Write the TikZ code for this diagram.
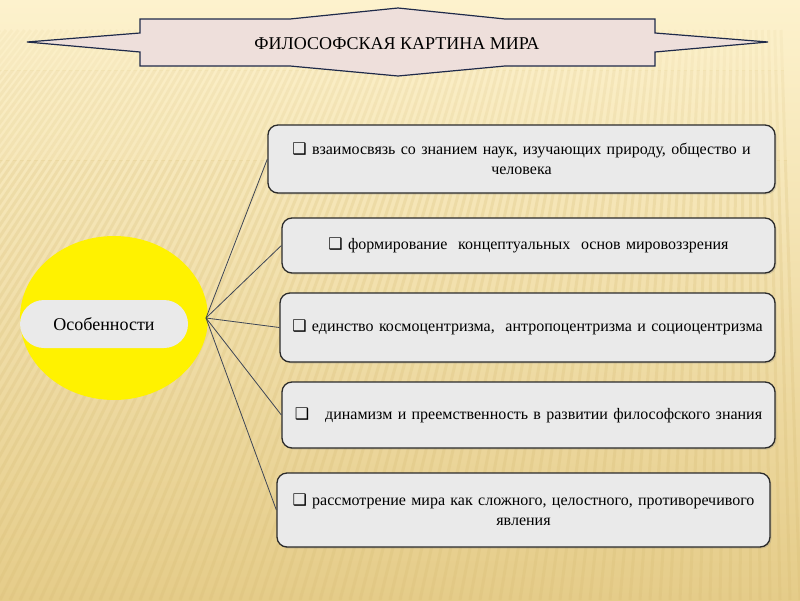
\documentclass[tikz,border=0pt]{standalone}
\usepackage{fontspec}
\setmainfont{Liberation Serif}
\newfontfamily\symf{DejaVu Sans}
\usetikzlibrary{shapes.geometric,shadows}
\definecolor{bgtop}{HTML}{FDF2CD}
\definecolor{bgmid}{HTML}{FAE9BC}
\definecolor{bgbot}{HTML}{E5CC89}
\definecolor{stripe}{HTML}{D4B970}
\definecolor{bannerfill}{HTML}{EEDFDB}
\definecolor{bannerline}{HTML}{1F2A4A}
\definecolor{boxfill}{HTML}{EAEAEA}
\definecolor{boxline}{HTML}{2B2B2B}
\definecolor{linkcol}{HTML}{3E4656}
\newcommand{\chk}{{\symf\fontsize{16}{16}\selectfont ❑}}
\tikzset{
  itembox/.style={draw=boxline, line width=1.3pt, fill=boxfill, rounded corners=10pt,
    drop shadow={shadow xshift=1.5pt, shadow yshift=-1.5pt, opacity=0.25},
    align=center, inner sep=3pt, font=\fontsize{16}{20}\selectfont},
  pill/.style={fill=boxfill, rounded corners=24pt, inner sep=0pt, font=\fontsize{18}{20}\selectfont},
  link/.style={draw=linkcol, line width=0.8pt},
  banner/.style={fill=bannerfill, draw=bannerline, line width=1.2pt, line join=miter},
  stripeline/.style={stripe, line width=3pt}
}
\begin{document}
\begin{tikzpicture}[x=1pt,y=-1pt]
\useasboundingbox (0,0) rectangle (800,600);
\shade[top color=bgtop, middle color=bgmid, bottom color=bgbot] (0,0) rectangle (800,600);
\foreach \ya/\yb/\op in {20/70/0.08, 70/160/0.14, 160/600/0.22}{
\begin{scope}
\clip (0,\ya) rectangle (800,\yb);
\foreach \bx in {-700,-690,...,800}{
  \pgfmathsetmacro{\tx}{750+0.62*(\bx-750)}
  \draw[stripeline, opacity=\op] (\bx,600) -- (\tx,30);
}
\end{scope}
}
% banner
\draw[banner] (27,42) -- (140,33) -- (140,19) -- (290,19) -- (398,8) -- (505,19) -- (655,19) -- (655,33) -- (768,42) -- (655,52) -- (655,66) -- (505,66) -- (398,76) -- (290,66) -- (140,66) -- (140,52) -- cycle;
\node[font=\fontsize{18}{20}\selectfont] (title) at (397,44) {ФИЛОСОФСКАЯ КАРТИНА МИРА};
% circle
\node[ellipse, fill=yellow, minimum width=188pt, minimum height=164pt, inner sep=0pt] (circ) at (114,318) {};
\node[pill, minimum width=168pt, minimum height=48pt] (osob) at (104,324) {Особенности};
\coordinate (hub) at (206,318);
% boxes
\node[itembox, minimum width=507pt, minimum height=68pt, text width=495pt] (b1) at (521.5,159)
  {\chk\ взаимосвязь со знанием наук, изучающих природу, общество и\\ человека};
\node[itembox, minimum width=493pt, minimum height=55pt, text width=485pt] (b2) at (528.5,245.5)
  {\chk\ формирование~ концептуальных~ основ мировоззрения};
\node[itembox, minimum width=495pt, minimum height=69pt, text width=487pt] (b3) at (527.5,327.5)
  {\chk\ единство космоцентризма,~ антропоцентризма и социоцентризма};
\node[itembox, minimum width=493pt, minimum height=66pt, text width=485pt] (b4) at (528.5,415)
  {\chk\ ~ динамизм и преемственность в развитии философского знания};
\node[itembox, minimum width=493pt, minimum height=74pt, text width=485pt] (b5) at (523.5,510)
  {\chk\ рассмотрение мира как сложного, целостного, противоречивого\\ явления};
% links
\foreach \b in {b1,b2,b3,b4,b5}{
  \draw[link] (hub) -- (\b.west);
}
\end{tikzpicture}
\end{document}
